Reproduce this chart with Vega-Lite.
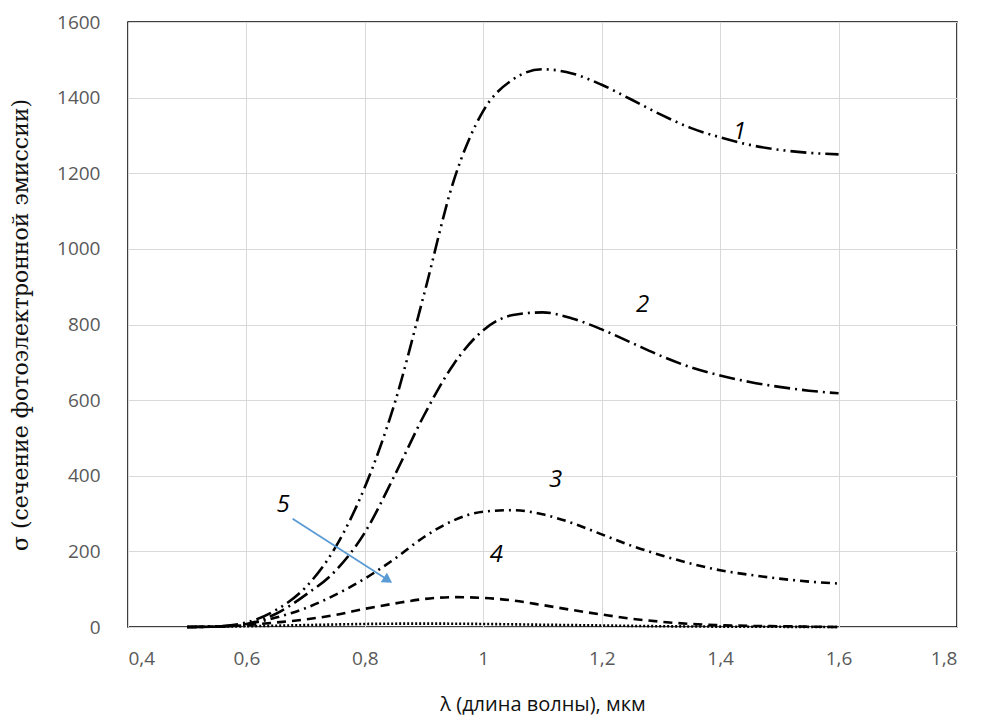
{
  "$schema": "https://vega.github.io/schema/vega-lite/v6.json",
  "width": 829,
  "height": 605,
  "autosize": "none",
  "padding": {"left": 128, "top": 22, "right": 24, "bottom": 96},
  "background": "white",
  "config": {
    "view": {"stroke": "black", "strokeWidth": 1.5},
    "axis": {"grid": true, "gridColor": "#d9d9d9", "gridWidth": 1, "domain": false, "ticks": false, "labelColor": "#595959", "labelFont": "Open Sans", "labelFontSize": 19}
  },
  "datasets": {
    "curves": [
      {"s": "1", "x": 0.5, "y": 0}, {"s": "1", "x": 0.55, "y": 2}, {"s": "1", "x": 0.6, "y": 12}, {"s": "1", "x": 0.65, "y": 45}, {"s": "1", "x": 0.7, "y": 105}, {"s": "1", "x": 0.75, "y": 210}, {"s": "1", "x": 0.8, "y": 370}, {"s": "1", "x": 0.85, "y": 590}, {"s": "1", "x": 0.9, "y": 880}, {"s": "1", "x": 0.95, "y": 1180}, {"s": "1", "x": 1.0, "y": 1365}, {"s": "1", "x": 1.05, "y": 1448}, {"s": "1", "x": 1.1, "y": 1475}, {"s": "1", "x": 1.15, "y": 1464}, {"s": "1", "x": 1.2, "y": 1434}, {"s": "1", "x": 1.25, "y": 1395}, {"s": "1", "x": 1.3, "y": 1355}, {"s": "1", "x": 1.35, "y": 1320}, {"s": "1", "x": 1.4, "y": 1295}, {"s": "1", "x": 1.45, "y": 1275}, {"s": "1", "x": 1.5, "y": 1262}, {"s": "1", "x": 1.55, "y": 1254}, {"s": "1", "x": 1.6, "y": 1250},
      {"s": "2", "x": 0.5, "y": 0}, {"s": "2", "x": 0.55, "y": 1}, {"s": "2", "x": 0.6, "y": 8}, {"s": "2", "x": 0.65, "y": 35}, {"s": "2", "x": 0.7, "y": 85}, {"s": "2", "x": 0.75, "y": 148}, {"s": "2", "x": 0.8, "y": 250}, {"s": "2", "x": 0.85, "y": 400}, {"s": "2", "x": 0.9, "y": 560}, {"s": "2", "x": 0.95, "y": 695}, {"s": "2", "x": 1.0, "y": 785}, {"s": "2", "x": 1.05, "y": 825}, {"s": "2", "x": 1.1, "y": 832}, {"s": "2", "x": 1.15, "y": 816}, {"s": "2", "x": 1.2, "y": 787}, {"s": "2", "x": 1.25, "y": 752}, {"s": "2", "x": 1.3, "y": 717}, {"s": "2", "x": 1.35, "y": 687}, {"s": "2", "x": 1.4, "y": 665}, {"s": "2", "x": 1.45, "y": 648}, {"s": "2", "x": 1.5, "y": 635}, {"s": "2", "x": 1.55, "y": 625}, {"s": "2", "x": 1.6, "y": 618},
      {"s": "3", "x": 0.5, "y": 0}, {"s": "3", "x": 0.55, "y": 1}, {"s": "3", "x": 0.6, "y": 8}, {"s": "3", "x": 0.65, "y": 25}, {"s": "3", "x": 0.7, "y": 50}, {"s": "3", "x": 0.75, "y": 85}, {"s": "3", "x": 0.8, "y": 128}, {"s": "3", "x": 0.85, "y": 180}, {"s": "3", "x": 0.9, "y": 238}, {"s": "3", "x": 0.95, "y": 282}, {"s": "3", "x": 1.0, "y": 305}, {"s": "3", "x": 1.05, "y": 309}, {"s": "3", "x": 1.1, "y": 298}, {"s": "3", "x": 1.15, "y": 275}, {"s": "3", "x": 1.2, "y": 245}, {"s": "3", "x": 1.25, "y": 215}, {"s": "3", "x": 1.3, "y": 190}, {"s": "3", "x": 1.35, "y": 168}, {"s": "3", "x": 1.4, "y": 150}, {"s": "3", "x": 1.45, "y": 138}, {"s": "3", "x": 1.5, "y": 128}, {"s": "3", "x": 1.55, "y": 120}, {"s": "3", "x": 1.6, "y": 115},
      {"s": "4", "x": 0.5, "y": 0}, {"s": "4", "x": 0.55, "y": 1}, {"s": "4", "x": 0.6, "y": 5}, {"s": "4", "x": 0.65, "y": 12}, {"s": "4", "x": 0.7, "y": 20}, {"s": "4", "x": 0.75, "y": 32}, {"s": "4", "x": 0.8, "y": 48}, {"s": "4", "x": 0.85, "y": 62}, {"s": "4", "x": 0.9, "y": 74}, {"s": "4", "x": 0.95, "y": 79}, {"s": "4", "x": 1.0, "y": 77}, {"s": "4", "x": 1.05, "y": 70}, {"s": "4", "x": 1.1, "y": 58}, {"s": "4", "x": 1.15, "y": 45}, {"s": "4", "x": 1.2, "y": 33}, {"s": "4", "x": 1.25, "y": 22}, {"s": "4", "x": 1.3, "y": 14}, {"s": "4", "x": 1.35, "y": 8}, {"s": "4", "x": 1.4, "y": 5}, {"s": "4", "x": 1.45, "y": 3}, {"s": "4", "x": 1.5, "y": 2}, {"s": "4", "x": 1.55, "y": 1}, {"s": "4", "x": 1.6, "y": 0},
      {"s": "5", "x": 0.5, "y": 0}, {"s": "5", "x": 0.6, "y": 2}, {"s": "5", "x": 0.7, "y": 5}, {"s": "5", "x": 0.8, "y": 8}, {"s": "5", "x": 0.9, "y": 9}, {"s": "5", "x": 1.0, "y": 8}, {"s": "5", "x": 1.1, "y": 6}, {"s": "5", "x": 1.2, "y": 4}, {"s": "5", "x": 1.3, "y": 2}, {"s": "5", "x": 1.4, "y": 1}, {"s": "5", "x": 1.5, "y": 0.5}, {"s": "5", "x": 1.6, "y": 0}
    ],
    "labels": [
      {"label": "1", "x": 1.433, "y": 1310},
      {"label": "2", "x": 1.269, "y": 851},
      {"label": "3", "x": 1.122, "y": 389},
      {"label": "4", "x": 1.022, "y": 190},
      {"label": "5", "x": 0.662, "y": 323}
    ],
    "arrow": [
      {"x": 0.678, "y": 286, "x2": 0.839, "y2": 124}
    ]
  },
  "layer": [
    {
      "data": {"name": "curves"},
      "mark": {"type": "line", "interpolate": "monotone", "strokeWidth": 2.6, "color": "black"},
      "encoding": {
        "x": {"field": "x", "type": "quantitative", "scale": {"domain": [0.4, 1.8], "nice": false}, "axis": {"values": [0.4, 0.6, 0.8, 1.0, 1.2, 1.4, 1.6, 1.8], "labelExpr": "replace(format(datum.value, '.2~f'), '.', ',')", "labelPadding": 22, "title": "λ (длина волны), мкм", "titleFont": "Open Sans", "titleFontSize": 20, "titleFontWeight": "normal", "titleColor": "#111", "titlePadding": 26}},
        "y": {"field": "y", "type": "quantitative", "scale": {"domain": [0, 1600], "nice": false}, "axis": {"values": [0, 200, 400, 600, 800, 1000, 1200, 1400, 1600], "format": "d", "labelPadding": 28, "title": "σ (сечение фотоэлектронной эмиссии)", "titleFont": "DejaVu Serif", "titleFontSize": 22, "titleFontWeight": "normal", "titleColor": "#111", "titlePadding": 24}},
        "detail": {"field": "s", "type": "nominal"},
        "strokeDash": {"field": "s", "type": "nominal", "legend": null, "scale": {"domain": ["1", "2", "3", "4", "5"], "range": [[16, 5, 2, 5, 2, 5], [16, 5, 2, 5], [9, 5, 2, 5], [9, 6], [2, 2]]}}
      }
    },
    {
      "data": {"name": "arrow"},
      "mark": {"type": "rule", "color": "#5b9bd5", "strokeWidth": 1.8},
      "encoding": {
        "x": {"field": "x", "type": "quantitative"},
        "y": {"field": "y", "type": "quantitative"},
        "x2": {"field": "x2"},
        "y2": {"field": "y2"}
      }
    },
    {
      "data": {"name": "arrow"},
      "mark": {"type": "point", "shape": "triangle-up", "filled": true, "color": "#5b9bd5", "size": 130, "angle": 123, "opacity": 1},
      "encoding": {
        "x": {"field": "x2", "type": "quantitative"},
        "y": {"field": "y2", "type": "quantitative"}
      }
    },
    {
      "data": {"name": "labels"},
      "mark": {"type": "text", "font": "Open Sans", "fontStyle": "italic", "fontSize": 24, "color": "black"},
      "encoding": {
        "x": {"field": "x", "type": "quantitative"},
        "y": {"field": "y", "type": "quantitative"},
        "text": {"field": "label"}
      }
    }
  ]
}
